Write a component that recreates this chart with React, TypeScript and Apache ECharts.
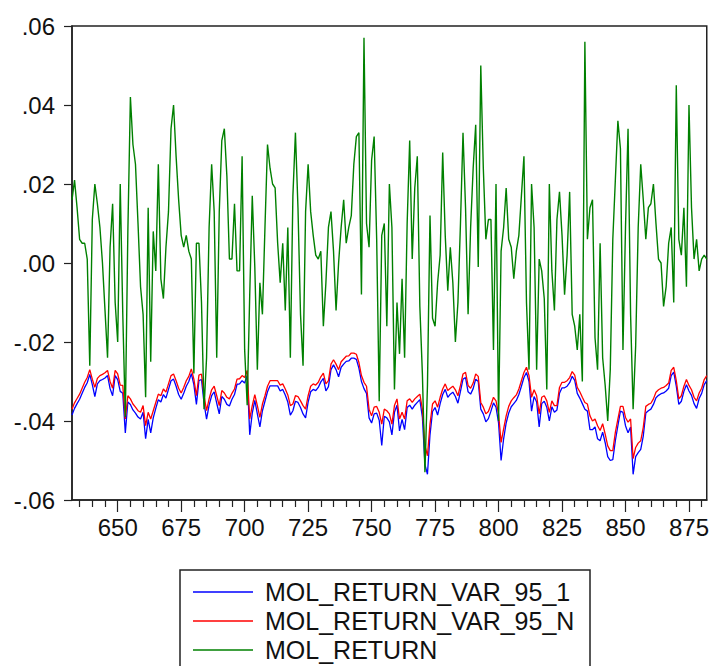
import React, { useEffect, useRef } from "react";
import * as echarts from "echarts";

const START_OBS = 632;
const END_OBS = 882;

const SERIES_NAMES = ["MOL_RETURN_VAR_95_1", "MOL_RETURN_VAR_95_N", "MOL_RETURN"];

const X_LABEL_TICKS = [650, 675, 700, 725, 750, 775, 800, 825, 850, 875];
const X_MINOR_TICKS = [
  635, 640, 645, 655, 660, 665, 670, 680, 685, 690, 695, 705, 710, 715, 720, 730, 735, 740, 745,
  755, 760, 765, 770, 780, 785, 790, 795, 805, 810, 815, 820, 830, 835, 840, 845, 855, 860, 865,
  870, 880,
];

// MOL_RETURN (obs 632..882)
const molReturn = [
  0.016, 0.021, 0.014, 0.006, 0.005, 0.005, 0.001, -0.026, 0.011, 0.020,
  0.015, 0.009, 0.000, -0.012, -0.024, 0.004, 0.015, -0.010, -0.020, 0.020,
  -0.013, -0.039, 0.008, 0.042, 0.030, 0.025, 0.010, -0.006, -0.013, -0.034,
  0.014, -0.025, 0.008, -0.002, 0.025, -0.004, -0.009, 0.004, 0.013, 0.034,
  0.040, 0.027, 0.016, 0.007, 0.004, 0.007, 0.003, 0.001, -0.028, 0.005,
  0.005, -0.010, -0.037, -0.024, 0.009, 0.025, 0.013, -0.024, 0.013, 0.031,
  0.034, 0.022, 0.001, 0.001, 0.015, -0.002, -0.002, 0.027, -0.022, -0.036,
  -0.008, 0.017, -0.001, -0.027, -0.005, -0.013, 0.009, 0.030, 0.024, 0.020,
  0.019, 0.005, -0.005, 0.005, -0.012, 0.009, -0.024, 0.017, 0.033, 0.014,
  -0.013, -0.026, 0.013, 0.025, 0.013, 0.007, 0.002, 0.001, 0.003, -0.016,
  -0.005, 0.009, 0.013, 0.003, -0.012, 0.000, 0.009, 0.016, 0.005, 0.009,
  0.012, 0.025, 0.032, 0.033, -0.008, 0.057, 0.010, 0.004, 0.026, 0.032,
  0.006, -0.035, 0.007, 0.010, -0.016, 0.020, 0.009, -0.032, -0.010, -0.023,
  -0.004, -0.024, 0.010, 0.031, 0.001, 0.019, 0.027, -0.011, -0.028, -0.053,
  -0.031, 0.012, -0.014, -0.016, -0.005, 0.002, 0.028, 0.007, -0.007, 0.004,
  -0.005, -0.020, -0.010, 0.010, 0.033, 0.014, -0.013, 0.009, 0.024, 0.035,
  -0.001, 0.050, 0.024, 0.006, 0.011, 0.011, -0.022, 0.020, -0.040, 0.003,
  0.009, 0.019, 0.006, 0.004, -0.004, 0.003, 0.007, 0.017, 0.027, -0.010,
  -0.027, 0.020, 0.009, -0.027, 0.001, -0.002, -0.009, -0.032, 0.020, -0.002,
  -0.012, 0.011, 0.018, 0.007, -0.008, 0.002, 0.018, -0.013, -0.016, -0.022,
  -0.013, -0.030, 0.056, 0.006, 0.014, 0.016, -0.019, -0.027, 0.005, -0.024,
  -0.031, -0.040, -0.027, 0.006, 0.021, 0.036, 0.029, -0.022, 0.009, 0.034,
  -0.013, -0.037, -0.021, 0.009, 0.025, 0.016, 0.006, 0.014, 0.015, 0.020,
  0.010, 0.001, 0.000, -0.011, -0.006, 0.005, 0.009, -0.010, 0.045, 0.006,
  0.002, 0.014, -0.006, 0.040, 0.014, 0.001, 0.006, -0.002, 0.001, 0.002,
  0.001,
];

// MOL_RETURN_VAR_95_N (obs 632..882)
const varN = [
  -0.0370, -0.0354, -0.0343, -0.0332, -0.0317, -0.0302, -0.0290, -0.0270, -0.0294, -0.0315,
  -0.0292, -0.0285, -0.0282, -0.0278, -0.0272, -0.0300, -0.0317, -0.0272, -0.0281, -0.0309,
  -0.0310, -0.0395, -0.0336, -0.0344, -0.0357, -0.0365, -0.0374, -0.0378, -0.0361, -0.0412,
  -0.0378, -0.0395, -0.0374, -0.0353, -0.0332, -0.0336, -0.0319, -0.0327, -0.0306, -0.0285,
  -0.0281, -0.0298, -0.0317, -0.0329, -0.0315, -0.0298, -0.0287, -0.0268, -0.0294, -0.0336,
  -0.0284, -0.0281, -0.0336, -0.0374, -0.0344, -0.0321, -0.0312, -0.0336, -0.0361, -0.0323,
  -0.0329, -0.0340, -0.0344, -0.0330, -0.0319, -0.0294, -0.0293, -0.0285, -0.0290, -0.0272,
  -0.0395, -0.0361, -0.0333, -0.0361, -0.0391, -0.0357, -0.0336, -0.0312, -0.0298, -0.0298,
  -0.0298, -0.0298, -0.0309, -0.0306, -0.0319, -0.0334, -0.0361, -0.0357, -0.0336, -0.0338,
  -0.0349, -0.0361, -0.0370, -0.0336, -0.0312, -0.0306, -0.0309, -0.0302, -0.0288, -0.0279,
  -0.0306, -0.0298, -0.0256, -0.0245, -0.0256, -0.0270, -0.0250, -0.0243, -0.0236, -0.0235,
  -0.0228, -0.0228, -0.0231, -0.0252, -0.0285, -0.0302, -0.0312, -0.0370, -0.0387, -0.0365,
  -0.0363, -0.0378, -0.0408, -0.0370, -0.0374, -0.0382, -0.0408, -0.0361, -0.0344, -0.0395,
  -0.0378, -0.0395, -0.0349, -0.0344, -0.0353, -0.0344, -0.0338, -0.0332, -0.0370, -0.0462,
  -0.0488, -0.0408, -0.0357, -0.0349, -0.0365, -0.0340, -0.0319, -0.0306, -0.0323, -0.0317,
  -0.0312, -0.0321, -0.0336, -0.0310, -0.0281, -0.0277, -0.0310, -0.0317, -0.0304, -0.0281,
  -0.0287, -0.0353, -0.0365, -0.0382, -0.0376, -0.0359, -0.0340, -0.0349, -0.0382, -0.0454,
  -0.0420, -0.0387, -0.0363, -0.0349, -0.0341, -0.0334, -0.0319, -0.0298, -0.0277, -0.0264,
  -0.0285, -0.0340, -0.0321, -0.0336, -0.0382, -0.0340, -0.0336, -0.0349, -0.0378, -0.0349,
  -0.0361, -0.0361, -0.0315, -0.0302, -0.0302, -0.0298, -0.0290, -0.0275, -0.0284, -0.0315,
  -0.0326, -0.0340, -0.0353, -0.0357, -0.0387, -0.0400, -0.0395, -0.0412, -0.0424, -0.0407,
  -0.0433, -0.0463, -0.0475, -0.0475, -0.0429, -0.0395, -0.0363, -0.0363, -0.0391, -0.0403,
  -0.0395, -0.0495, -0.0467, -0.0456, -0.0450, -0.0416, -0.0363, -0.0358, -0.0355, -0.0344,
  -0.0327, -0.0321, -0.0317, -0.0315, -0.0310, -0.0304, -0.0272, -0.0264, -0.0298, -0.0344,
  -0.0336, -0.0312, -0.0295, -0.0310, -0.0321, -0.0340, -0.0349, -0.0329, -0.0317, -0.0295,
  -0.0285,
];

// MOL_RETURN_VAR_95_1 (obs 632..882)
const var1 = [
  -0.0385, -0.0368, -0.0356, -0.0345, -0.0330, -0.0315, -0.0303, -0.0282, -0.0308, -0.0338,
  -0.0306, -0.0298, -0.0295, -0.0291, -0.0285, -0.0318, -0.0336, -0.0285, -0.0295, -0.0325,
  -0.0330, -0.0430, -0.0352, -0.0358, -0.0372, -0.0380, -0.0390, -0.0395, -0.0378, -0.0445,
  -0.0396, -0.0430, -0.0392, -0.0368, -0.0346, -0.0352, -0.0333, -0.0342, -0.0320, -0.0298,
  -0.0294, -0.0312, -0.0333, -0.0345, -0.0330, -0.0312, -0.0300, -0.0280, -0.0308, -0.0358,
  -0.0298, -0.0295, -0.0355, -0.0395, -0.0360, -0.0336, -0.0326, -0.0355, -0.0382, -0.0338,
  -0.0345, -0.0358, -0.0362, -0.0345, -0.0333, -0.0307, -0.0306, -0.0298, -0.0304, -0.0285,
  -0.0435, -0.0380, -0.0348, -0.0382, -0.0415, -0.0374, -0.0350, -0.0326, -0.0311, -0.0311,
  -0.0311, -0.0311, -0.0324, -0.0320, -0.0334, -0.0352, -0.0385, -0.0374, -0.0350, -0.0353,
  -0.0366, -0.0382, -0.0392, -0.0352, -0.0326, -0.0320, -0.0323, -0.0315, -0.0301, -0.0292,
  -0.0324, -0.0313, -0.0270, -0.0258, -0.0270, -0.0288, -0.0264, -0.0256, -0.0249, -0.0248,
  -0.0241, -0.0241, -0.0244, -0.0266, -0.0300, -0.0318, -0.0330, -0.0392, -0.0405, -0.0382,
  -0.0380, -0.0398, -0.0462, -0.0388, -0.0392, -0.0402, -0.0435, -0.0378, -0.0360, -0.0425,
  -0.0396, -0.0422, -0.0366, -0.0360, -0.0370, -0.0360, -0.0353, -0.0346, -0.0390, -0.0510,
  -0.0535, -0.0435, -0.0376, -0.0366, -0.0385, -0.0356, -0.0333, -0.0320, -0.0340, -0.0332,
  -0.0327, -0.0338, -0.0355, -0.0325, -0.0294, -0.0290, -0.0326, -0.0332, -0.0318, -0.0294,
  -0.0300, -0.0370, -0.0382, -0.0402, -0.0394, -0.0375, -0.0354, -0.0365, -0.0405, -0.0500,
  -0.0445, -0.0405, -0.0380, -0.0364, -0.0356, -0.0348, -0.0333, -0.0312, -0.0290, -0.0277,
  -0.0300, -0.0375, -0.0338, -0.0352, -0.0415, -0.0356, -0.0350, -0.0365, -0.0400, -0.0364,
  -0.0378, -0.0372, -0.0330, -0.0316, -0.0316, -0.0312, -0.0303, -0.0287, -0.0297, -0.0330,
  -0.0342, -0.0356, -0.0370, -0.0375, -0.0422, -0.0422, -0.0415, -0.0445, -0.0450, -0.0428,
  -0.0455, -0.0490, -0.0500, -0.0498, -0.0450, -0.0412, -0.0375, -0.0378, -0.0412, -0.0430,
  -0.0415, -0.0535, -0.0490, -0.0480, -0.0472, -0.0438, -0.0380, -0.0374, -0.0370, -0.0358,
  -0.0341, -0.0335, -0.0331, -0.0329, -0.0324, -0.0317, -0.0285, -0.0276, -0.0312, -0.0358,
  -0.0350, -0.0325, -0.0308, -0.0324, -0.0335, -0.0356, -0.0368, -0.0343, -0.0330, -0.0308,
  -0.0298,
];

const COLORS = ["#0000ff", "#ff0000", "#008000"];
const FONT = '"Liberation Sans", Arial, sans-serif';

function toPairs(values: number[]) {
  return values.map((v, i) => [START_OBS + i, v]);
}

function fmtY(v: number) {
  const s = Math.abs(v).toFixed(2).replace(/^0/, "");
  return (v < -1e-9 ? "-" : "") + s;
}

export default function App() {
  const ref = useRef<HTMLDivElement>(null);

  useEffect(() => {
    if (!ref.current) return;
    const chart = echarts.init(ref.current, null, { renderer: "svg" });
    const legendRows = [592, 621, 650];
    const graphic: any[] = [
      {
        type: "rect",
        shape: { x: 180, y: 570, width: 410, height: 110 },
        style: { fill: "#ffffff", stroke: "#222222", lineWidth: 1.5 },
        z: 10,
      },
    ];
    SERIES_NAMES.forEach((name, i) => {
      graphic.push({
        type: "line",
        shape: { x1: 193, y1: legendRows[i], x2: 253, y2: legendRows[i] },
        style: { stroke: COLORS[i], lineWidth: 1.5 },
        z: 11,
      });
      graphic.push({
        type: "text",
        x: 265,
        y: legendRows[i],
        style: {
          text: name,
          font: `25px ${FONT}`,
          fill: "#111111",
          verticalAlign: "middle",
          align: "left",
        },
        z: 11,
      });
    });

    chart.setOption({
      animation: false,
      backgroundColor: "#ffffff",
      grid: {
        left: 72,
        right: 4,
        top: 26,
        bottom: 166,
        show: true,
        borderColor: "#222222",
        borderWidth: 1.5,
        backgroundColor: "transparent",
      },
      xAxis: [
        {
          type: "value",
          min: START_OBS,
          max: END_OBS,
          axisLine: { show: true, onZero: false, lineStyle: { color: "#222222", width: 1.5 } },
          axisTick: {
            show: true,
            length: 12,
            customValues: X_LABEL_TICKS,
            lineStyle: { color: "#222222", width: 1.2 },
          },
          axisLabel: {
            customValues: X_LABEL_TICKS,
            margin: 15,
            fontSize: 24,
            fontFamily: FONT,
            color: "#111111",
          },
          splitLine: { show: false },
        },
        {
          type: "value",
          min: START_OBS,
          max: END_OBS,
          position: "bottom",
          axisLine: { show: false, onZero: false },
          axisTick: {
            show: true,
            length: 7,
            customValues: X_MINOR_TICKS,
            lineStyle: { color: "#222222", width: 1.2 },
          },
          axisLabel: { show: false },
          splitLine: { show: false },
        },
      ],
      yAxis: {
        type: "value",
        min: -0.06,
        max: 0.06,
        interval: 0.02,
        axisLine: { show: true, onZero: false, lineStyle: { color: "#222222", width: 1.5 } },
        axisTick: { show: true, length: 8, lineStyle: { color: "#222222", width: 1.2 } },
        axisLabel: {
          formatter: fmtY,
          margin: 17,
          fontSize: 24,
          fontFamily: FONT,
          color: "#111111",
        },
        splitLine: { show: false },
      },
      series: [
        {
          name: SERIES_NAMES[0],
          type: "line",
          data: toPairs(var1),
          showSymbol: false,
          lineStyle: { color: COLORS[0], width: 1.3 },
          itemStyle: { color: COLORS[0] },
        },
        {
          name: SERIES_NAMES[1],
          type: "line",
          data: toPairs(varN),
          showSymbol: false,
          lineStyle: { color: COLORS[1], width: 1.3 },
          itemStyle: { color: COLORS[1] },
        },
        {
          name: SERIES_NAMES[2],
          type: "line",
          data: toPairs(molReturn),
          showSymbol: false,
          lineStyle: { color: COLORS[2], width: 1.4 },
          itemStyle: { color: COLORS[2] },
        },
      ],
      graphic,
    });
    return () => chart.dispose();
  }, []);

  return (
    <div
      ref={ref}
      style={{ position: "absolute", left: 0, top: 0, width: 712, height: 666, background: "#fff" }}
    />
  );
}
